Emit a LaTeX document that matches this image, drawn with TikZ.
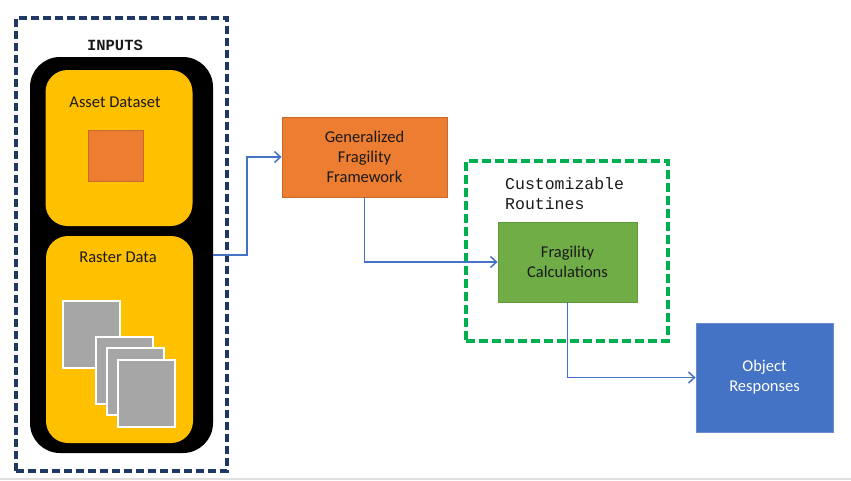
\documentclass[tikz,border=0pt]{standalone}
\usepackage{fontspec}
\setmainfont{Carlito}
\newfontfamily\codefont{Liberation Mono}
\usetikzlibrary{arrows.meta}
\definecolor{navy}{HTML}{1F3864}
\definecolor{amber}{HTML}{FFC000}
\definecolor{tangerine}{HTML}{ED7D31}
\definecolor{darkorange}{HTML}{C8682A}
\definecolor{leaf}{HTML}{70AD47}
\definecolor{darkleaf}{HTML}{5E9A3A}
\definecolor{routinegreen}{HTML}{00B050}
\definecolor{flowblue}{HTML}{4472C4}
\definecolor{inktext}{HTML}{1A1A1A}
\tikzset{
    label16/.style={font=\fontsize{16.5}{20}\selectfont, text=inktext, align=center},
    stepbox/.style={label16, draw, line width=0.8pt, minimum width=#1, minimum height=80pt},
    panel/.style={fill=amber, rounded corners=22pt, minimum width=147pt},
    tile/.style={fill=gray!70, draw=white, line width=1.5pt, minimum width=57pt, minimum height=67pt, anchor=north west},
    flow/.style={draw=flowblue, line width=1.5pt, -{Straight Barb[length=6pt,width=11pt]}}
}
\begin{document}
\begin{tikzpicture}[x=1pt,y=-1pt]
    \useasboundingbox (0,0) rectangle (851,480);
    \draw[gray!25, line width=2pt] (0,479) -- (851,479);

    % inputs column
    \node[draw=navy, line width=3.2pt, dash pattern=on 8pt off 4pt, minimum width=211pt, minimum height=453pt] (inputs) at (121.5,244.5) {};
    \node[font=\codefont\bfseries\fontsize{15.5}{18}\selectfont, text=inktext] (inputstitle) at (115,45) {INPUTS};
    \node[fill=black, rounded corners=30pt, minimum width=183pt, minimum height=396pt] (stack) at (121.5,255) {};
    \node[panel, minimum height=156pt] (asset) at (119,148) {};
    \node[panel, minimum height=207pt] (raster) at (119.5,339.5) {};
    \node[label16] (assettitle) at (115,102) {Asset Dataset};
    \node[label16] (rastertitle) at (118,257) {Raster Data};
    \node[fill=tangerine, draw=darkorange, line width=0.8pt, minimum width=55pt, minimum height=51pt] (assetmark) at (115.5,155.5) {};
    \foreach \gx/\gy [count=\k] in {62/300,95/336,106/347,117/359}{
        \node[tile] (tile\k) at (\gx,\gy) {};
    }

    % processing
    \node[stepbox=165pt, fill=tangerine, draw=darkorange] (framework) at (364.5,157) {Generalized\\Fragility\\Framework};
    \node[draw=routinegreen, line width=3.2pt, dash pattern=on 9pt off 4pt, minimum width=202pt, minimum height=180pt] (routines) at (567,251) {};
    \node[font=\codefont\fontsize{16.5}{20}\selectfont, text=inktext, align=left, anchor=west, inner sep=0pt] (routinestitle) at (505,194) {Customizable\\Routines};
    \node[stepbox=139pt, fill=leaf, draw=darkleaf] (calc) at (567.5,262) {Fragility\\Calculations};
    \node[stepbox=137pt, minimum height=109pt, fill=flowblue, draw=flowblue!80, text=white] (objresp) at (764.5,377.5) {Object\\Responses};

    \draw[flow] (stack.east) -- ++(34,0) |- (framework.west);
    \draw[flow] (framework.south) |- (calc.west);
    \draw[flow] (calc.south) |- (objresp.west);

\end{tikzpicture}
\end{document}
